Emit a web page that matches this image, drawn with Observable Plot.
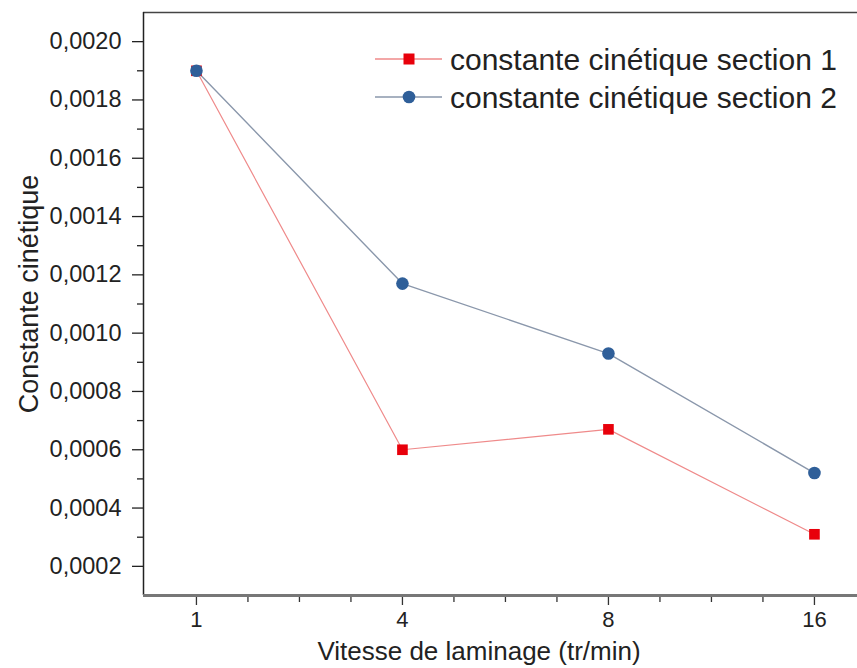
<!DOCTYPE html>
<html>
<head>
<meta charset="utf-8">
<script src="https://cdn.jsdelivr.net/npm/d3@7"></script>
<script src="https://cdn.jsdelivr.net/npm/@observablehq/plot@0.6"></script>
<style>
  body { margin: 0; background: #fff; }
  #chart svg { display: block; }
</style>
</head>
<body>
<div id="chart"></div>
<script>
// Data
const speeds = ["1", "4", "8", "16"];
const section1 = [0.0019, 0.0006, 0.00067, 0.00031];
const section2 = [0.0019, 0.00117, 0.00093, 0.00052];
const seriesNames = ["constante cinétique section 1", "constante cinétique section 2"];
const yMajorTicks = [0.0002, 0.0004, 0.0006, 0.0008, 0.0010, 0.0012, 0.0014, 0.0016, 0.0018, 0.0020];
const yMinorTicks = [0.0003, 0.0005, 0.0007, 0.0009, 0.0011, 0.0013, 0.0015, 0.0017, 0.0019];
const xMajorTicks = [0, 1, 2, 3];
const xMinorTicks = [0.25, 0.5, 0.75, 1.25, 1.5, 1.75, 2.25, 2.5, 2.75];

const red = "#e8000b", redLine = "#ef8a8a";
const blue = "#2f5f99", blueLine = "#8a97ab";

const rows1 = speeds.map((s, i) => ({i, v: section1[i]}));
const rows2 = speeds.map((s, i) => ({i, v: section2[i]}));
const fmt = d => d3.format(".4f")(d).replace(".", ",");

const xMin = -0.257, xMax = 3.209, yMin = 0.0001, yMax = 0.0021;
const ff = "'Liberation Sans', Arial, sans-serif";

const chart = Plot.plot({
  width: 857, height: 668,
  marginLeft: 143, marginRight: 0, marginTop: 12, marginBottom: 73,
  style: {fontFamily: ff, fontSize: "23px", color: "#222", background: "#fff"},
  x: {domain: [xMin, xMax]},
  y: {domain: [yMin, yMax]},
  marks: [
    Plot.ruleY([yMax], {stroke: "#444", strokeWidth: 1.5}),
    Plot.ruleX([xMin], {stroke: "#222", strokeWidth: 1.5}),
    Plot.axisY(yMajorTicks, {tickSize: 11, tickPadding: 11, tickFormat: fmt, label: null, stroke: "#222", strokeWidth: 1.3, fontSize: 23.5}),
    Plot.axisY(yMinorTicks, {tickSize: 6, tickFormat: () => "", label: null, stroke: "#222", strokeWidth: 1.3}),
    Plot.axisX(xMajorTicks, {tickSize: 10, tickPadding: 6, tickFormat: i => speeds[i], label: null, stroke: "#333", strokeWidth: 1.3, fontSize: 22}),
    Plot.axisX(xMinorTicks, {tickSize: 7, tickFormat: () => "", label: null, stroke: "#333", strokeWidth: 1.3}),
    Plot.ruleY([yMin], {stroke: "#777", strokeWidth: 3}),
    Plot.line(rows1, {x: "i", y: "v", stroke: redLine, strokeWidth: 1.2}),
    Plot.line(rows2, {x: "i", y: "v", stroke: blueLine, strokeWidth: 1.4}),
    Plot.dot(rows1, {x: "i", y: "v", symbol: "square", r: 6, fill: red, stroke: "none"}),
    Plot.dot(rows2, {x: "i", y: "v", symbol: "circle", r: 6.3, fill: blue, stroke: "none"})
  ]
});

const svg = d3.select(chart);
// Axis titles
svg.append("text").attr("x", 479).attr("y", 660).attr("text-anchor", "middle")
  .attr("font-family", ff).attr("font-size", 26).attr("fill", "#222").text("Vitesse de laminage (tr/min)");
svg.append("text").attr("transform", "translate(38,294) rotate(-90)").attr("text-anchor", "middle")
  .attr("font-family", ff).attr("font-size", 27).attr("fill", "#222").text("Constante cinétique");

// Legend
const leg = [
  {name: seriesNames[0], line: redLine, fill: red, sym: "square", y: 59},
  {name: seriesNames[1], line: blueLine, fill: blue, sym: "circle", y: 97}
];
leg.forEach(d => {
  svg.append("line").attr("x1", 375).attr("x2", 442).attr("y1", d.y).attr("y2", d.y)
    .attr("stroke", d.line).attr("stroke-width", 1.4);
  if (d.sym === "square") {
    svg.append("rect").attr("x", 403.5).attr("y", d.y - 5.5).attr("width", 11).attr("height", 11).attr("fill", d.fill);
  } else {
    svg.append("circle").attr("cx", 409).attr("cy", d.y).attr("r", 6.3).attr("fill", d.fill);
  }
  svg.append("text").attr("x", 450).attr("y", d.y).attr("dy", "0.36em").attr("text-anchor", "start")
    .attr("font-family", ff).attr("font-size", 30).attr("fill", "#222").text(d.name);
});

document.getElementById("chart").appendChild(chart);
</script>
</body>
</html>
